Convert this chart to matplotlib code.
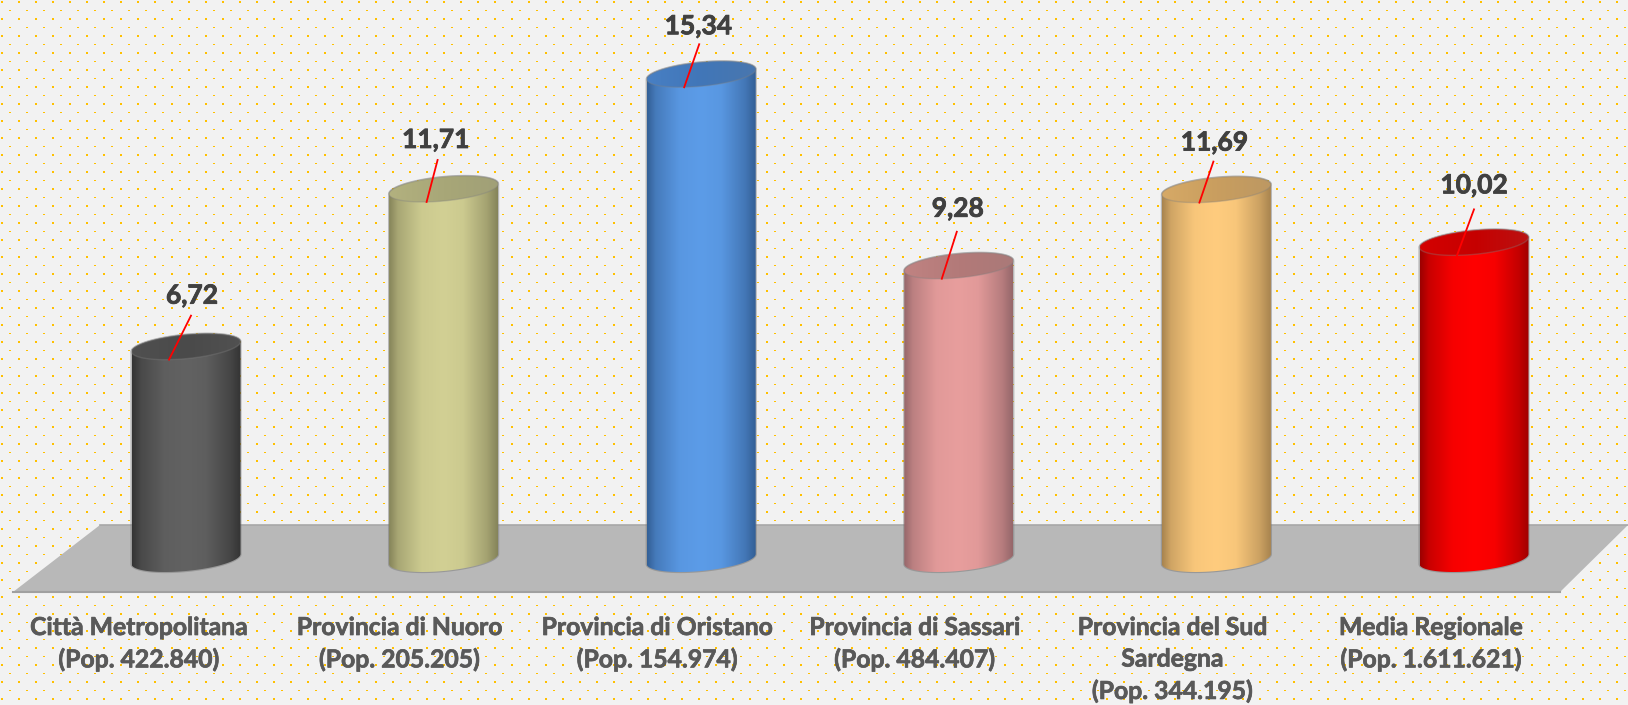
import numpy as np
import matplotlib
matplotlib.use("Agg")
import matplotlib.pyplot as plt
import matplotlib.patheffects as pe
from matplotlib.colors import LinearSegmentedColormap, to_rgb
from matplotlib.patches import Polygon, PathPatch
from matplotlib.path import Path

labels = ["Città Metropolitana\n(Pop. 422.840)", "Provincia di Nuoro\n(Pop. 205.205)",
          "Provincia di Oristano\n(Pop. 154.974)", "Provincia di Sassari\n(Pop. 484.407)",
          "Provincia del Sud\nSardegna\n(Pop. 344.195)", "Media Regionale\n(Pop. 1.611.621)"]
values = [6.72, 11.71, 15.34, 9.28, 11.69, 10.02]
value_text = ["6,72", "11,71", "15,34", "9,28", "11,69", "10,02"]

# edge colour, body colour, colour of the top face
body_edge = ["#343434", "#85845a", "#335f96", "#96676a", "#a8844f", "#9c0000"]
body_mid = ["#626262", "#d2d094", "#5c9ce8", "#e89e9d", "#ffcc7e", "#ff0000"]
top_face = ["#4a4a4a", "#a8a778", "#4176b8", "#b37a79", "#c99e5f", "#c60000"]

# label positions relative to the top of each bar, in pixels
text_dx = [6, -8, -3, -1, -2, 0]
text_dy = [51, 49, 48, 57, 47, 57]
line_dx = [5, -6, -2, -2, -3, 0]
line_dy = [31, 29, 30, 34, 28, 33]
cat_dx = [-47, -44, -44, -44, -44, -43]

W, H = 1628, 705
X_UNIT = 257.6   # pixels per category
Y_UNIT = 31.6    # pixels per value unit
HALF_W = 54.5 / X_UNIT
TILT = 5 / Y_UNIT
DEPTH = 12 / Y_UNIT

fig = plt.figure(figsize=(W / 100, H / 100), dpi=100)
plt.rcParams["font.family"] = ["Lato", "DejaVu Sans"]

# dotted paper background
bg = np.ones((H, W, 3)) * (0xf2 / 255)
dot = np.array([1.0, 0.753, 0.0])
for y in range(1, H, 17):
    for x in range(1, W, 17):
        bg[y:y + 2, x:x + 2] = dot
for y in range(10, H, 17):
    for x in range(9, W, 17):
        bg[y:y + 1, x:x + 2] = dot
fig.figimage(bg, origin="upper", zorder=-1)

ax = fig.add_axes([0, 0, 1, 1])
ax.patch.set_alpha(0)
ax.axis("off")
xlim = (-186 / X_UNIT, (W - 186) / X_UNIT)
ylim = (-(H - 559) / Y_UNIT, 559 / Y_UNIT)


def ax_frac(px, py):
    return px / W, 1 - py / H


def blend(a, b, f):
    return tuple(np.array(to_rgb(a)) * (1 - f) + np.array(to_rgb(b)) * f)


# floor of the chart
floor = Polygon([ax_frac(13, 592), ax_frac(100, 525), ax_frac(W, 525), ax_frac(1560, 592)],
                closed=True, transform=ax.transAxes, fc="#b8b8b8", ec="none", zorder=1)
ax.add_patch(floor)
ax.plot(*zip(ax_frac(100, 525), ax_frac(W, 525)), transform=ax.transAxes, color="#a8a8a8", lw=1.2, zorder=1)
ax.plot(*zip(ax_frac(13, 592), ax_frac(1560, 592)), transform=ax.transAxes, color="#a0a0a0", lw=1.5, zorder=1)

t = np.linspace(0, 2 * np.pi, 121)
for i, v in enumerate(values):
    # back half of the tilted ellipse goes from the right end to the left end
    front = np.linspace(np.pi, 2 * np.pi, 61)
    back = np.linspace(0, np.pi, 61)
    top_x = i + HALF_W * np.cos(back)
    top_y = v + TILT * np.cos(back) + DEPTH * np.sin(back)
    bot_x = i + HALF_W * np.cos(front)
    bot_y = TILT * np.cos(front) + DEPTH * np.sin(front)
    outline = np.column_stack([np.r_[top_x, bot_x, top_x[0]], np.r_[top_y, bot_y, top_y[0]]])
    body = PathPatch(Path(outline), fc="none", ec=(0.45, 0.45, 0.45, 0.45), lw=1.6, zorder=2)
    ax.add_patch(body)
    clip = PathPatch(Path(outline), fc="none", ec="none")
    ax.add_patch(clip)
    mid, edge = body_mid[i], body_edge[i]
    cmap = LinearSegmentedColormap.from_list("cyl", [(0, edge), (0.08, blend(mid, edge, 0.55)),
                                                     (0.3, blend(mid, edge, 0.08)), (0.5, mid), (0.68, blend(mid, edge, 0.08)),
                                                     (0.9, blend(mid, edge, 0.6)), (1, edge)])
    im = ax.imshow(np.linspace(0, 1, 256)[None, :], cmap=cmap, aspect="auto", zorder=3,
                   extent=(i - HALF_W, i + HALF_W, -1, v + 1))
    im.set_clip_path(clip)

    # top face, shaded from left to right
    cap_xy = np.column_stack([i + HALF_W * np.cos(t), v + TILT * np.cos(t) + DEPTH * np.sin(t)])
    cap = Polygon(cap_xy, closed=True, fc="none", ec=(0.5, 0.5, 0.5, 0.35), lw=1.0, zorder=4.5)
    ax.add_patch(cap)
    cap_clip = Polygon(cap_xy, closed=True, fc="none", ec="none")
    ax.add_patch(cap_clip)
    face = top_face[i]
    cap_cmap = LinearSegmentedColormap.from_list("cap", [blend(face, mid, 0.25), face, blend(face, "#777777", 0.15)])
    cap_im = ax.imshow(np.linspace(0, 1, 256)[None, :], cmap=cap_cmap, aspect="auto", zorder=4,
                       extent=(i - HALF_W, i + HALF_W, v - 1, v + 1))
    cap_im.set_clip_path(cap_clip)

    # leader line and value
    ax.plot([i - 17 / X_UNIT, i + line_dx[i] / X_UNIT], [v - 13 / Y_UNIT, v + line_dy[i] / Y_UNIT],
            color="#ff0000", lw=1.3, zorder=5)
    ax.text(i + text_dx[i] / X_UNIT, v + text_dy[i] / Y_UNIT, value_text[i], ha="center", va="center",
            fontsize=19, fontweight="bold", color="#404040", zorder=6,
            path_effects=[pe.withStroke(linewidth=0.6, foreground="#404040")])
    ax.text(i + cat_dx[i] / X_UNIT, -(616 - 559) / Y_UNIT, labels[i], ha="center", va="top", fontsize=17.8,
            fontweight="bold", color="#595959", linespacing=1.45, zorder=6,
            path_effects=[pe.withStroke(linewidth=0.5, foreground="#595959")])

ax.set_xlim(xlim)
ax.set_ylim(ylim)
fig.savefig("out.png", dpi=100)
